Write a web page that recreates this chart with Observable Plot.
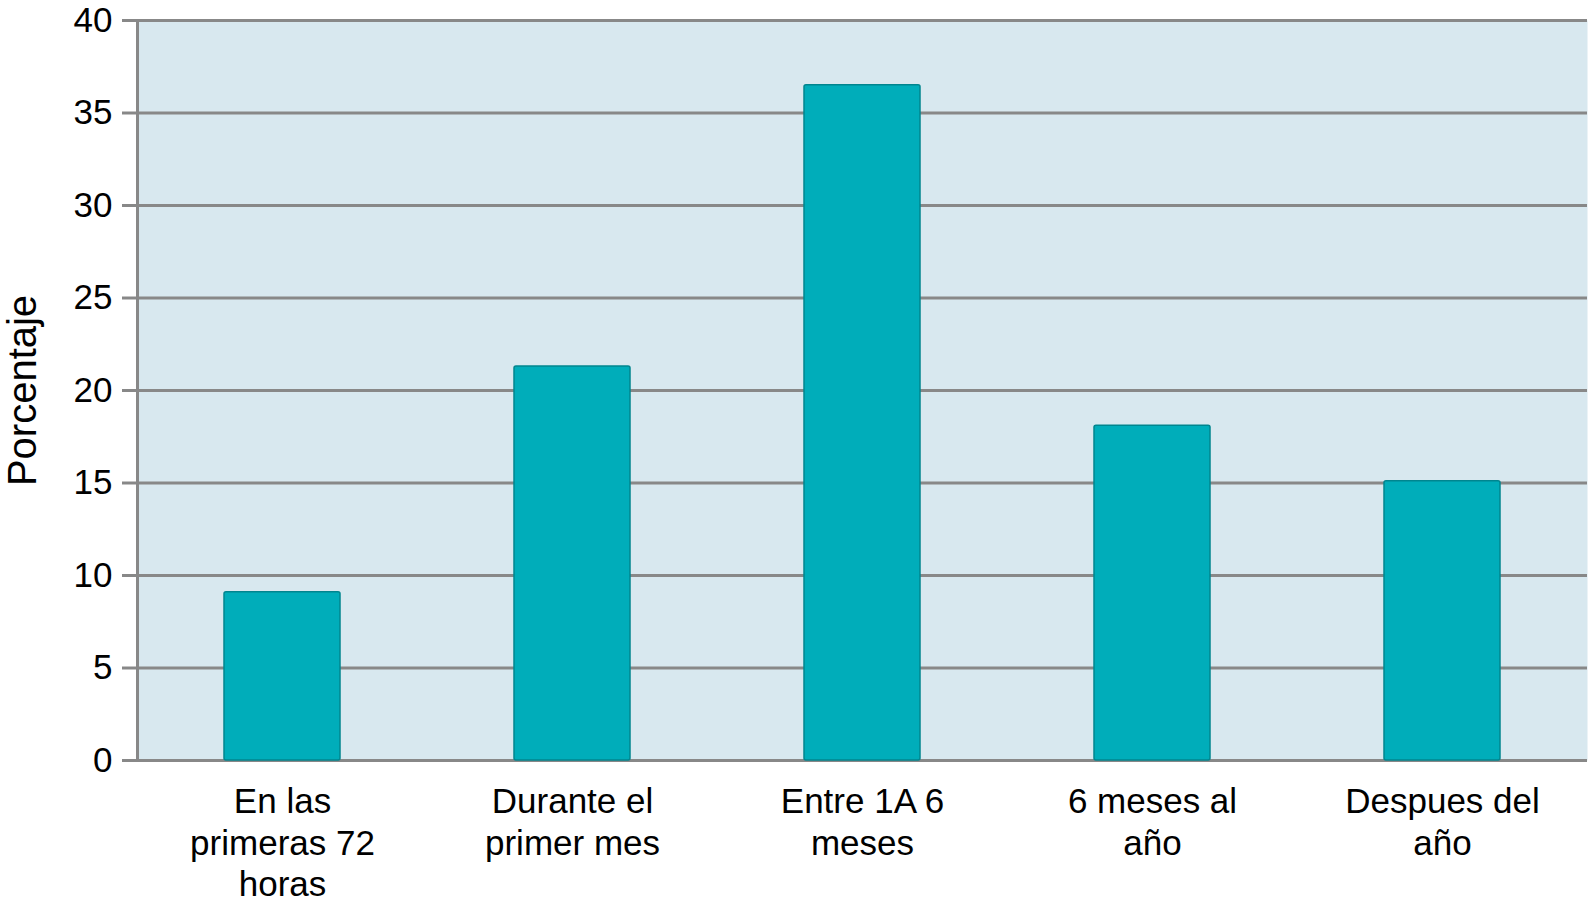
<!DOCTYPE html>
<html>
<head>
<meta charset="utf-8">
<script src="https://cdn.jsdelivr.net/npm/d3@7"></script>
<script src="https://cdn.jsdelivr.net/npm/@observablehq/plot@0.6"></script>
<style>
  html, body { margin: 0; padding: 0; background: #fff; }
  #chart svg { display: block; }
</style>
</head>
<body>
<div id="chart"></div>
<script>
const categories = ["En las\nprimeras 72\nhoras", "Durante el\nprimer mes", "Entre 1A 6\nmeses", "6 meses al\naño", "Despues del\naño"];
const values = [9.1, 21.3, 36.5, 18.1, 15.1];
const yTicks = [0, 5, 10, 15, 20, 25, 30, 35, 40];
const yLabel = "Porcentaje";

const data = categories.map((c, i) => ({cat: c, value: values[i]}));

const chart = Plot.plot({
  width: 1592,
  height: 902,
  marginLeft: 137,
  marginRight: 5,
  marginTop: 20,
  marginBottom: 142,
  style: {fontFamily: "Liberation Sans, Arial, sans-serif", fontSize: "35px", color: "#000", background: "#fff"},
  x: {domain: categories, paddingInner: 0.6, paddingOuter: 0.3, label: null},
  y: {domain: [0, 40], label: null},
  marks: [
    Plot.frame({fill: "#d8e8ef", stroke: null}),
    Plot.ruleY(yTicks, {stroke: "#888", strokeWidth: 3}),
    Plot.frame({anchor: "left", stroke: "#888", strokeWidth: 3}),
    Plot.barY(data, {x: "cat", y: "value", fill: "#00adba", stroke: "#00858f", strokeWidth: 1.5, rx: 2}),
    Plot.axisY({ticks: yTicks, tickSize: 15, tickPadding: 10, stroke: "#888", strokeWidth: 3, fill: "#000", label: null, fontSize: 35}),
    Plot.axisX({tickSize: 0, tickPadding: 23, lineHeight: 1.19, fill: "#000", fontSize: 35, label: null}),
    Plot.text([yLabel], {frameAnchor: "left", textAnchor: "middle", dx: -114, rotate: -90, fontSize: 40, fill: "#000"})
  ]
});
document.getElementById("chart").appendChild(chart);
</script>
</body>
</html>
